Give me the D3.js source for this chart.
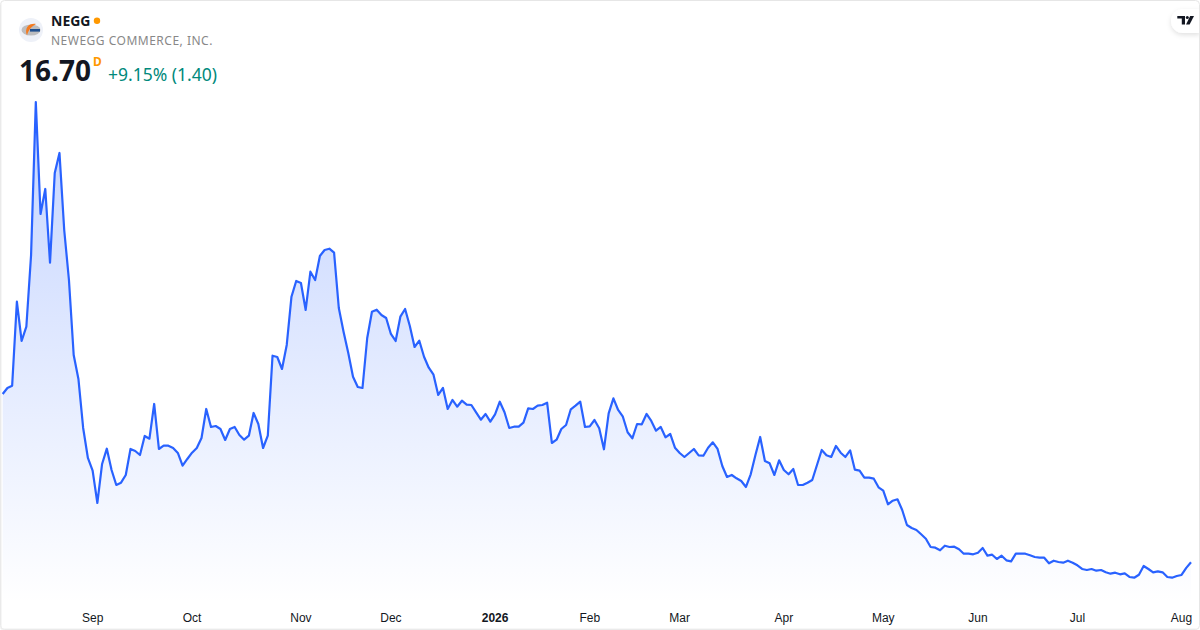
<!DOCTYPE html>
<html>
<head>
<meta charset="utf-8">
<script src="https://cdn.jsdelivr.net/npm/d3@7"></script>
<style>
  html, body { margin: 0; padding: 0; background: #fff; }
  svg { display: block; font-family: "Noto Sans", sans-serif; }
  .axis path, .axis line { display: none; }
  .axis text { font-size: 12px; fill: #131722; }
</style>
</head>
<body>
<div id="chart"></div>
<script>
// daily closes
const closes = [
  58.78, 60.28, 60.85, 81.85, 72.03, 75.60, 93.53, 131.78, 103.78, 110.03, 91.60, 114.03,
  119.03, 99.78, 87.28, 68.53, 62.53, 50.28, 42.78, 39.60, 31.53, 41.28, 45.10, 39.78,
  36.03, 36.60, 38.53, 45.03, 44.53, 43.53, 48.28, 47.60, 56.28, 45.03, 45.85, 45.85,
  45.28, 44.03, 40.85, 42.53, 44.10, 45.28, 47.78, 55.03, 50.53, 50.78, 50.03, 47.28,
  50.03, 50.53, 48.53, 47.35, 48.35, 54.03, 51.28, 45.28, 48.35, 68.35, 68.03, 65.03,
  71.03, 83.10, 87.03, 86.53, 79.78, 89.35, 87.28, 93.28, 94.78, 95.10, 94.10, 80.28,
  74.35, 69.03, 63.10, 60.53, 60.28, 72.78, 79.35, 79.85, 78.53, 77.78, 73.78, 72.03,
  78.10, 80.03, 75.78, 70.53, 72.10, 68.10, 65.35, 63.60, 58.53, 60.28, 55.03, 57.28,
  55.60, 57.10, 56.10, 56.03, 54.20, 52.35, 53.78, 51.85, 53.70, 56.85, 54.20, 50.28,
  50.60, 50.60, 51.60, 55.20, 55.03, 55.85, 56.03, 56.60, 46.53, 47.35, 50.03, 51.03,
  54.95, 55.85, 56.85, 50.53, 50.70, 52.28, 50.20, 44.95, 53.95, 57.70, 54.78, 53.10,
  49.20, 47.70, 51.28, 51.20, 53.78, 52.03, 49.60, 50.53, 47.95, 48.78, 45.35, 44.03,
  43.03, 44.03, 45.03, 43.45, 43.35, 45.35, 46.70, 45.03, 40.78, 38.03, 38.53, 37.70,
  37.03, 35.53, 38.70, 43.53, 48.03, 42.03, 41.45, 38.53, 42.20, 39.78, 38.70, 40.03,
  36.03, 36.03, 36.60, 37.28, 41.03, 44.78, 43.45, 43.03, 45.78, 44.10, 43.03, 44.70,
  39.85, 39.60, 37.85, 37.85, 37.60, 35.45, 34.60, 31.20, 32.10, 32.45, 29.78, 26.03,
  25.28, 24.78, 23.70, 22.60, 20.53, 20.35, 19.70, 20.85, 20.53, 20.60, 19.95, 18.85,
  18.85, 18.70, 19.10, 20.28, 18.35, 18.60, 17.53, 18.35, 17.20, 16.95, 18.85, 18.85,
  18.85, 18.45, 18.03, 17.85, 17.85, 16.45, 17.10, 16.78, 16.60, 17.10, 16.60, 15.95,
  15.03, 14.78, 15.03, 14.60, 14.78, 14.20, 13.85, 14.10, 13.70, 13.95, 13.03, 12.85,
  13.60, 15.78, 15.03, 14.20, 14.45, 14.20, 13.03, 12.85, 13.28, 13.53, 15.30, 16.70
];

// axis: first trading day of each month, as an index into closes
const tickDays = [19, 40, 63, 82, 104, 124, 143, 165, 186, 206, 227, 249];
const tickLabels = ["Sep", "Oct", "Nov", "Dec", "2026", "Feb", "Mar", "Apr", "May", "Jun", "Jul", "Aug"];

const width = 1200;
const height = 630;

const svg = d3.select("#chart").append("svg")
  .attr("width", width)
  .attr("height", height);

const defs = svg.append("defs");

const fade = defs.append("linearGradient")
  .attr("id", "fade")
  .attr("gradientUnits", "userSpaceOnUse")
  .attr("x1", 0).attr("x2", 0)
  .attr("y1", 102).attr("y2", 604);
fade.append("stop").attr("offset", 0).attr("stop-color", "#2962ff").attr("stop-opacity", 0.28);
fade.append("stop").attr("offset", 1).attr("stop-color", "#2962ff").attr("stop-opacity", 0);

const shadow = defs.append("filter")
  .attr("id", "shadow")
  .attr("x", "-30%").attr("y", "-30%")
  .attr("width", "160%").attr("height", "160%");
shadow.append("feDropShadow")
  .attr("dx", 0).attr("dy", 2)
  .attr("stdDeviation", 2.5)
  .attr("flood-color", "#000")
  .attr("flood-opacity", 0.12);

// scales
const x = d3.scaleLinear().domain([0, closes.length - 1]).range([2.67, 1191]);
const y = d3.scaleLinear().domain([0, 130]).range([629.1, 109.1]);

const area = d3.area()
  .x((d, i) => x(i))
  .y0(604)
  .y1(d => y(d));

const line = d3.line()
  .x((d, i) => x(i))
  .y(d => y(d));

svg.append("path")
  .attr("d", area(closes))
  .attr("fill", "url(#fade)");

svg.append("path")
  .attr("d", line(closes))
  .attr("fill", "none")
  .attr("stroke", "#2962ff")
  .attr("stroke-width", 2.2)
  .attr("stroke-linejoin", "round");

// x axis
const xAxis = d3.axisBottom(x)
  .tickValues(tickDays)
  .tickFormat((d, i) => tickLabels[i])
  .tickSize(0)
  .tickPadding(0);

const xAxisG = svg.append("g")
  .attr("class", "axis")
  .attr("transform", "translate(-0.5,613)")
  .call(xAxis);

xAxisG.selectAll("text")
  .style("font-weight", (d, i) => tickLabels[i] === "2026" ? 700 : 400);

// header
const logo = svg.append("g").attr("transform", "translate(31,30)");
logo.append("circle").attr("r", 12).attr("fill", "#eef1f8");
logo.append("ellipse").attr("rx", 9.5).attr("ry", 5.5).attr("fill", "#bdbdbf");
logo.append("path")
  .attr("d", "M5 -6 C-2 -7 -7 -2 -4 5.5 C-3 2 -2 -2 5 -6 Z")
  .attr("fill", "#f47a1f");
logo.append("rect")
  .attr("x", -1).attr("y", -1)
  .attr("width", 10).attr("height", 2.6)
  .attr("fill", "#1f4f8f");

svg.append("text")
  .attr("x", 51).attr("y", 26)
  .attr("font-size", 14).attr("font-weight", 700)
  .attr("fill", "#131722")
  .text("NEGG");

svg.append("circle")
  .attr("cx", 97).attr("cy", 20.7).attr("r", 3.2)
  .attr("fill", "#ff9800");

svg.append("text")
  .attr("x", 51).attr("y", 45)
  .attr("font-size", 12)
  .attr("letter-spacing", 0.5)
  .attr("fill", "#888888")
  .text("NEWEGG COMMERCE, INC.");

svg.append("text")
  .attr("x", 19).attr("y", 81)
  .attr("font-size", 28).attr("font-weight", 700)
  .attr("fill", "#131722")
  .text("16.70");

svg.append("text")
  .attr("x", 93).attr("y", 66)
  .attr("font-size", 12).attr("font-weight", 700)
  .attr("fill", "#ff9800")
  .text("D");

svg.append("text")
  .attr("x", 108).attr("y", 81)
  .attr("font-size", 17.5)
  .attr("fill", "#00897b")
  .text("+9.15% (1.40)");

// TradingView badge, top right
svg.append("path")
  .attr("d", "M1200 9 H1183 A12 12 0 0 0 1183 33 H1200 Z")
  .attr("fill", "#fff")
  .attr("filter", "url(#shadow)");

const badge = svg.append("g").attr("fill", "#131722");
badge.append("path").attr("d", "M1177.3 16 H1185 V24.5 H1181.8 V18.6 H1177.3 Z");
badge.append("circle").attr("cx", 1187.3).attr("cy", 17.4).attr("r", 1.5);
badge.append("path").attr("d", "M1190.2 16 H1194 L1189.6 24.5 H1186 Z");

// card border, a little heavier on the left and bottom
svg.append("rect")
  .attr("x", 0.5).attr("y", 0.5)
  .attr("width", width - 1).attr("height", height - 1)
  .attr("rx", 4)
  .attr("fill", "none")
  .attr("stroke", "#e6e6e6");
svg.append("path")
  .attr("d", `M1 4 V${height - 1} H${width - 4}`)
  .attr("fill", "none")
  .attr("stroke", "#eeeeee")
  .attr("stroke-width", 1);
</script>
</body>
</html>
